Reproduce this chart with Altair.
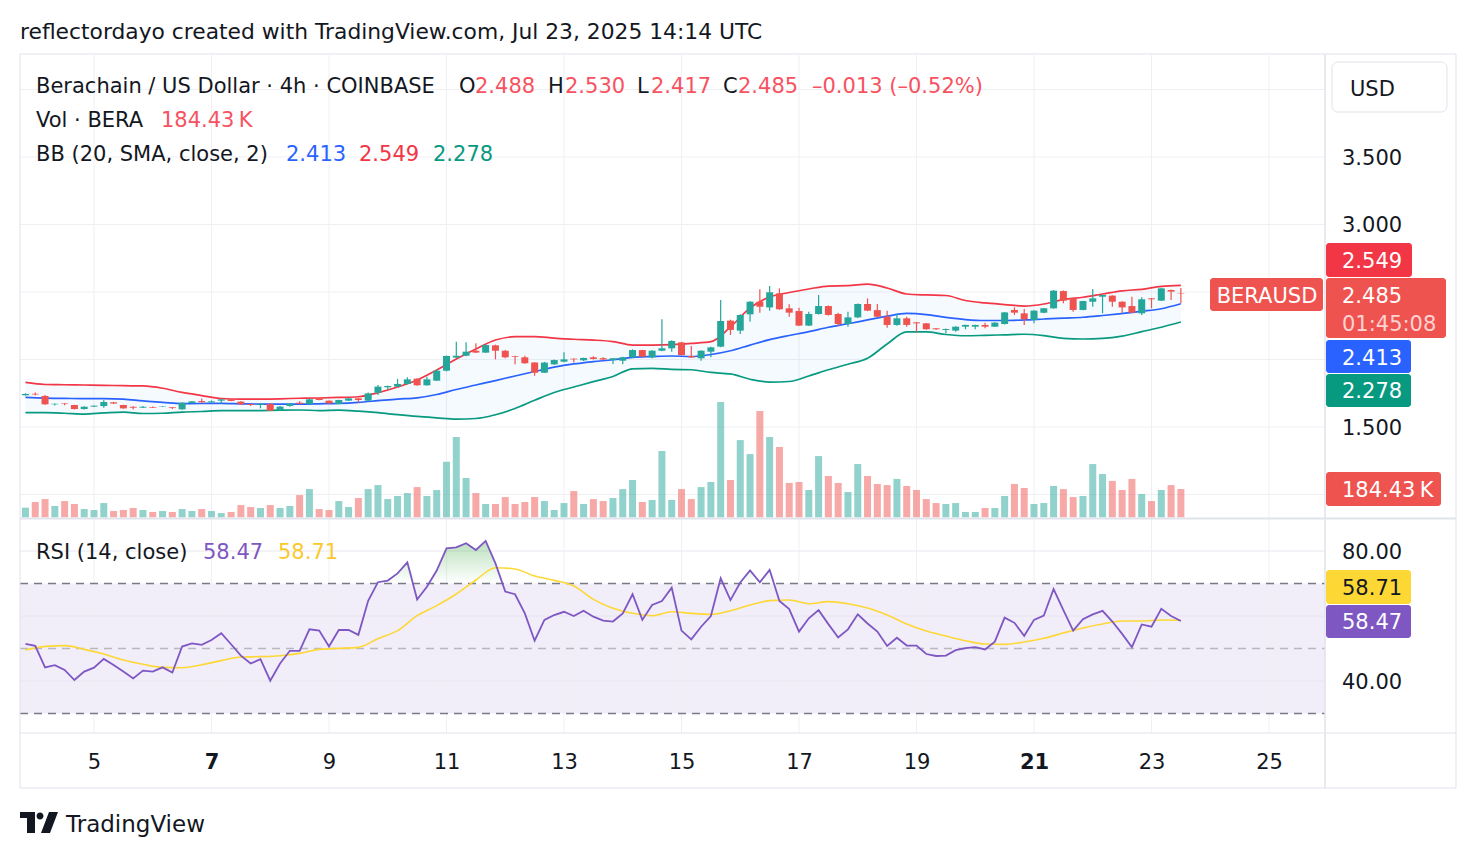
import altair as alt
import pandas as pd

# ---------------- data ----------------
opens = [1.735, 1.746, 1.730, 1.668, 1.674, 1.663, 1.633, 1.651, 1.655, 1.683,
         1.663, 1.650, 1.643, 1.648, 1.650, 1.646, 1.631, 1.678, 1.692, 1.683,
         1.695, 1.705, 1.688, 1.670, 1.665, 1.670, 1.626, 1.656, 1.680, 1.670,
         1.712, 1.695, 1.670, 1.695, 1.712, 1.695, 1.754, 1.794, 1.799, 1.819,
         1.858, 1.809, 1.843, 1.917, 2.014, 2.028, 2.065, 2.051, 2.105, 2.065,
         2.026, 2.016, 1.977, 1.902, 1.964, 1.984, 2.006, 1.994, 2.016, 2.010,
         1.996, 1.991, 2.016, 2.070, 2.016, 2.065, 2.083, 2.127, 2.026, 2.009,
         2.058, 2.095, 2.288, 2.214, 2.335, 2.428, 2.386, 2.490, 2.379, 2.359,
         2.251, 2.337, 2.396, 2.337, 2.263, 2.312, 2.411, 2.366, 2.317, 2.256,
         2.305, 2.275, 2.268, 2.231, 2.219, 2.214, 2.243, 2.243, 2.256, 2.243,
         2.263, 2.367, 2.342, 2.293, 2.347, 2.379, 2.507, 2.453, 2.367, 2.428,
         2.465, 2.473, 2.428, 2.396, 2.342, 2.453, 2.436, 2.515, 2.488]
highs = [1.750, 1.755, 1.737, 1.674, 1.678, 1.665, 1.653, 1.660, 1.700, 1.686,
         1.665, 1.654, 1.656, 1.652, 1.655, 1.648, 1.683, 1.693, 1.712, 1.697,
         1.708, 1.708, 1.690, 1.673, 1.676, 1.678, 1.655, 1.676, 1.690, 1.710,
         1.715, 1.697, 1.702, 1.717, 1.715, 1.755, 1.811, 1.806, 1.856, 1.868,
         1.862, 1.873, 1.927, 2.030, 2.132, 2.127, 2.120, 2.112, 2.110, 2.070,
         2.028, 2.028, 1.980, 1.982, 2.000, 2.053, 2.008, 2.014, 2.024, 2.016,
         2.012, 2.020, 2.075, 2.073, 2.070, 2.298, 2.142, 2.132, 2.100, 2.068,
         2.095, 2.441, 2.295, 2.335, 2.433, 2.520, 2.544, 2.527, 2.409, 2.384,
         2.354, 2.478, 2.400, 2.347, 2.354, 2.415, 2.453, 2.411, 2.362, 2.335,
         2.317, 2.278, 2.270, 2.234, 2.229, 2.246, 2.258, 2.258, 2.273, 2.276,
         2.352, 2.386, 2.374, 2.365, 2.382, 2.515, 2.512, 2.456, 2.436, 2.522,
         2.481, 2.476, 2.431, 2.465, 2.461, 2.456, 2.532, 2.518, 2.530]
lows = [1.732, 1.733, 1.665, 1.660, 1.662, 1.630, 1.630, 1.648, 1.643, 1.670,
        1.636, 1.630, 1.640, 1.640, 1.648, 1.633, 1.628, 1.676, 1.680, 1.680,
        1.670, 1.690, 1.665, 1.655, 1.638, 1.618, 1.620, 1.650, 1.668, 1.668,
        1.698, 1.672, 1.668, 1.693, 1.680, 1.692, 1.737, 1.774, 1.795, 1.815,
        1.805, 1.805, 1.840, 1.912, 2.010, 2.024, 2.048, 2.048, 2.001, 2.010,
        1.964, 1.968, 1.880, 1.900, 1.960, 1.980, 1.977, 1.989, 2.000, 1.995,
        1.967, 1.964, 2.013, 2.018, 2.009, 2.062, 2.058, 2.030, 2.013, 1.991,
        2.016, 2.090, 2.182, 2.189, 2.280, 2.347, 2.362, 2.368, 2.317, 2.248,
        2.248, 2.333, 2.326, 2.248, 2.243, 2.308, 2.358, 2.313, 2.236, 2.250,
        2.243, 2.201, 2.220, 2.220, 2.194, 2.206, 2.224, 2.224, 2.231, 2.240,
        2.260, 2.330, 2.256, 2.268, 2.342, 2.376, 2.416, 2.354, 2.364, 2.391,
        2.342, 2.391, 2.347, 2.344, 2.330, 2.379, 2.433, 2.441, 2.417]
closes = [1.745, 1.741, 1.668, 1.672, 1.670, 1.633, 1.650, 1.658, 1.685, 1.674,
          1.638, 1.643, 1.650, 1.643, 1.653, 1.640, 1.680, 1.690, 1.683, 1.690,
          1.705, 1.693, 1.668, 1.663, 1.673, 1.621, 1.651, 1.673, 1.671, 1.705,
          1.700, 1.675, 1.700, 1.712, 1.700, 1.749, 1.799, 1.804, 1.819, 1.853,
          1.809, 1.853, 1.917, 2.026, 2.028, 2.058, 2.051, 2.107, 2.065, 2.016,
          2.021, 1.972, 1.902, 1.977, 1.996, 2.001, 2.001, 2.011, 2.004, 2.000,
          2.009, 2.016, 2.070, 2.021, 2.065, 2.083, 2.137, 2.033, 2.016, 2.065,
          2.090, 2.285, 2.219, 2.330, 2.428, 2.391, 2.498, 2.372, 2.347, 2.251,
          2.337, 2.396, 2.330, 2.263, 2.312, 2.411, 2.362, 2.317, 2.256, 2.305,
          2.256, 2.268, 2.224, 2.224, 2.226, 2.243, 2.256, 2.256, 2.243, 2.273,
          2.349, 2.347, 2.298, 2.362, 2.379, 2.510, 2.436, 2.367, 2.433, 2.453,
          2.478, 2.428, 2.386, 2.347, 2.446, 2.446, 2.527, 2.503, 2.485]
volumes_k = [63, 100, 119, 74, 106, 87, 54, 48, 93, 41,
             48, 61, 48, 35, 41, 35, 54, 41, 54, 41,
             28, 35, 80, 67, 61, 80, 61, 74, 145, 184,
             54, 48, 106, 67, 126, 184, 210, 119, 139, 158,
             197, 139, 178, 362, 523, 256, 158, 87, 87, 132,
             87, 100, 132, 106, 48, 93, 171, 87, 119, 106,
             126, 184, 243, 100, 113, 432, 113, 184, 119, 197,
             230, 751, 243, 503, 412, 692, 523, 458, 224, 230,
             178, 399, 269, 224, 165, 347, 269, 217, 210, 250,
             204, 178, 119, 93, 87, 93, 35, 35, 61, 61,
             139, 217, 191, 87, 93, 204, 184, 132, 139, 347,
             282, 237, 178, 250, 152, 106, 178, 210, 184.43]
rsi = [51.4, 50.8, 44.2, 44.9, 43.4, 40.3, 42.9, 44.1, 46.8, 44.9,
       42.9, 40.8, 43.2, 42.9, 44.2, 42.6, 50.6, 51.6, 51.1, 52.6,
       54.7, 51.3, 47.8, 45.4, 46.7, 40.1, 45.4, 49.3, 49.3, 55.9,
       55.5, 50.6, 55.7, 55.7, 54.2, 64.7, 70.4, 70.9, 73.1, 76.5,
       65.1, 69.0, 74.0, 80.8, 81.1, 82.4, 80.3, 83.1, 76.2, 67.5,
       66.7, 60.8, 52.4, 58.8, 60.3, 61.3, 60.0, 61.6, 59.8, 58.6,
       58.3, 60.8, 66.7, 58.8, 63.4, 64.6, 68.7, 55.5, 52.8, 56.7,
       60.0, 71.6, 64.9, 70.3, 74.0, 70.4, 74.2, 64.6, 62.1, 55.2,
       59.3, 61.8, 57.5, 53.4, 55.9, 60.5, 57.7, 55.2, 50.8, 53.3,
       50.9, 50.9, 48.3, 47.7, 47.8, 49.5, 50.1, 50.4, 49.7, 52.1,
       59.5, 57.9, 53.9, 58.8, 60.1, 68.3, 61.8, 55.5, 59.0, 60.5,
       61.6, 58.3, 54.5, 50.4, 57.4, 56.7, 62.2, 60.0, 58.47]

# indicator lines read at every 2nd candle (candle index 0, 2, ..., 118)
bb_upper = [1.830, 1.815, 1.813, 1.811, 1.809, 1.806, 1.804, 1.787, 1.756, 1.733,
            1.711, 1.707, 1.707, 1.709, 1.713, 1.715, 1.719, 1.724, 1.754, 1.796,
            1.848, 1.922, 2.004, 2.078, 2.144, 2.169, 2.170, 2.159, 2.150, 2.144,
            2.133, 2.107, 2.107, 2.110, 2.119, 2.132, 2.241, 2.382, 2.463, 2.496,
            2.522, 2.544, 2.547, 2.559, 2.530, 2.485, 2.478, 2.474, 2.437, 2.419,
            2.407, 2.396, 2.411, 2.444, 2.461, 2.485, 2.509, 2.520, 2.542, 2.549]
bb_mid = [1.719, 1.714, 1.712, 1.710, 1.710, 1.707, 1.693, 1.683, 1.673, 1.674,
          1.675, 1.672, 1.670, 1.670, 1.670, 1.672, 1.675, 1.683, 1.695, 1.707,
          1.716, 1.741, 1.778, 1.811, 1.844, 1.878, 1.911, 1.943, 1.967, 1.984,
          1.998, 2.016, 2.022, 2.026, 2.022, 2.037, 2.065, 2.107, 2.147, 2.178,
          2.206, 2.239, 2.265, 2.293, 2.321, 2.341, 2.333, 2.312, 2.296, 2.289,
          2.289, 2.293, 2.300, 2.307, 2.313, 2.326, 2.341, 2.357, 2.376, 2.413]
bb_lower = [1.606, 1.606, 1.602, 1.596, 1.604, 1.610, 1.600, 1.602, 1.610, 1.615,
            1.621, 1.621, 1.622, 1.625, 1.626, 1.622, 1.625, 1.617, 1.606, 1.591,
            1.578, 1.568, 1.559, 1.563, 1.591, 1.637, 1.698, 1.756, 1.796, 1.836,
            1.874, 1.931, 1.935, 1.927, 1.924, 1.904, 1.893, 1.854, 1.833, 1.837,
            1.878, 1.924, 1.965, 2.009, 2.115, 2.204, 2.204, 2.185, 2.176, 2.179,
            2.183, 2.187, 2.177, 2.156, 2.152, 2.156, 2.173, 2.206, 2.239, 2.278]
rsi_ma = [49.54, 50.66, 50.87, 49.74, 48.31, 46.46, 45.13, 44.20, 44.10, 45.02,
          46.26, 47.38, 47.49, 47.79, 48.51, 49.74, 50.05, 50.36, 53.02, 55.49,
          60.10, 63.18, 66.77, 71.08, 74.87, 74.46, 72.31, 70.97, 69.23, 65.13,
          62.36, 60.82, 60.10, 61.33, 60.82, 60.51, 61.64, 63.38, 64.72, 64.92,
          63.79, 64.41, 63.79, 62.46, 60.31, 57.54, 55.38, 53.85, 52.41, 51.38,
          51.28, 52.00, 53.13, 54.77, 56.31, 57.54, 58.46, 58.46, 58.77, 58.71]

price_grid = [1.0, 1.5, 2.0, 2.5, 3.0, 3.5, 4.0]
price_labels = [1.5, 3.0, 3.5]
rsi_grid = [40, 60, 80]
rsi_labels = [40, 80]
day_ticks = [5, 7, 9, 11, 13, 15, 17, 19, 21, 23, 25]

FIRST_DAY = 3 + 20 / 24   # first visible 4h candle: Jul 3, 20:00 UTC
STEP = 4 / 24

cdf = pd.DataFrame({
    "day": [FIRST_DAY + i * STEP for i in range(len(closes))],
    "o": opens, "h": highs, "l": lows, "c": closes,
    "vol": volumes_k, "rsi": rsi,
})
cdf["dir"] = ["up" if c >= o else "down" for o, c in zip(opens, closes)]
band_idx = list(range(0, len(closes), 2))
bdf = pd.DataFrame({
    "day": [FIRST_DAY + i * STEP for i in band_idx],
    "up": bb_upper, "mid": bb_mid, "lo": bb_lower, "ma": rsi_ma,
})

# ---------------- styling ----------------
DARK = "#131722"
GRID = "#EFF0F3"
SEP = "#E0E3EB"
UP, DOWN = "#26A69A", "#EF5350"
FONT = "DejaVu Sans"
FS = 21
DY = 1.5                 # optical centring of DejaVu digits

X0, Y0 = 20, 55          # plot origin in the page
W, H = 1305, 678         # plot area (both panes)

XS = alt.Scale(domain=[3.7404, 25.953], nice=False, zero=False, padding=0)
PS = alt.Scale(domain=[-0.7667, 4.2556], nice=False, zero=False, padding=0)   # price pane
VS = alt.Scale(domain=[-1404, 3010], nice=False, zero=False, padding=0)       # volume (K)
RS = alt.Scale(domain=[24.0, 232.62], nice=False, zero=False, padding=0)      # RSI pane

XAX = alt.Axis(values=day_ticks, format="d", grid=False, ticks=False, domain=False,
               labelFontSize=FS, labelColor=DARK, labelFont=FONT,
               labelBaseline="middle", labelPadding=29.5, title=None,
               labelFontWeight=alt.condition("datum.value == 7 || datum.value == 21",
                                             alt.value("bold"), alt.value("normal")))


def X(field="day"):
    return alt.X(f"{field}:Q", scale=XS, axis=XAX)


ONE = alt.Data(values=[{"k": 0}])


def text(s, x, y, color=DARK, size=FS, align="left", weight="normal"):
    return alt.Chart(ONE).mark_text(
        text=s, align=align, baseline="middle", font=FONT, fontSize=size,
        fontWeight=weight, color=color
    ).encode(x=alt.value(x - X0), y=alt.value(y - Y0 + DY))


def box(x1, y1, x2, y2, fill, stroke=None, radius=3):
    props = dict(fill=fill, cornerRadius=radius)
    if stroke is not None:
        props.update(stroke=stroke, strokeWidth=1)
    return alt.Chart(ONE).mark_rect(**props).encode(
        x=alt.value(x1 - X0), x2=alt.value(x2 - X0),
        y=alt.value(y1 - Y0), y2=alt.value(y2 - Y0))


def hline(y, x1, x2, color=SEP, width=1):
    return alt.Chart(ONE).mark_rule(color=color, strokeWidth=width).encode(
        x=alt.value(x1 - X0), x2=alt.value(x2 - X0), y=alt.value(y - Y0))


def vline(x, y1, y2, color=SEP, width=1):
    return alt.Chart(ONE).mark_rule(color=color, strokeWidth=width).encode(
        x=alt.value(x - X0), y=alt.value(y1 - Y0), y2=alt.value(y2 - Y0))


dir_color = alt.Color("dir:N", scale=alt.Scale(domain=["up", "down"], range=[UP, DOWN]),
                      legend=None)

layers = []

# RSI background band 30..70
layers.append(alt.Chart(pd.DataFrame({"top": [70], "bot": [30]})).mark_rect(color="#F1EDF9").encode(
    x=alt.value(0), x2=alt.value(W), y=alt.Y("top:Q", scale=RS, axis=None), y2="bot:Q"))

# grid
layers.append(alt.Chart(pd.DataFrame({"day": day_ticks})).mark_rule(color=GRID, strokeWidth=1).encode(
    x=X(), y=alt.value(0), y2=alt.value(H)))
layers.append(alt.Chart(pd.DataFrame({"p": price_grid})).mark_rule(color=GRID, strokeWidth=1).encode(
    y=alt.Y("p:Q", scale=PS, axis=None), x=alt.value(0), x2=alt.value(W)))
layers.append(alt.Chart(pd.DataFrame({"r": rsi_grid})).mark_rule(color="#E9E6EF", strokeWidth=1).encode(
    y=alt.Y("r:Q", scale=RS, axis=None), x=alt.value(0), x2=alt.value(W)))

# Bollinger fill
layers.append(alt.Chart(bdf).mark_area(color="#2196F3", opacity=0.05).encode(
    x=X(), y=alt.Y("up:Q", scale=PS, axis=None), y2="lo:Q"))

# volume
layers.append(alt.Chart(cdf).mark_bar(size=7, opacity=0.5).encode(
    x=X(), y=alt.Y("vol:Q", scale=VS, axis=None), y2=alt.datum(0), color=dir_color))

# Bollinger lines
for field, col in [("up", "#F23645"), ("mid", "#2962FF"), ("lo", "#089981")]:
    layers.append(alt.Chart(bdf).mark_line(color=col, strokeWidth=1.7, interpolate="monotone").encode(
        x=X(), y=alt.Y(f"{field}:Q", scale=PS, axis=None)))

# candles
layers.append(alt.Chart(cdf).mark_rule(strokeWidth=1.2).encode(
    x=X(), y=alt.Y("l:Q", scale=PS, axis=None), y2="h:Q", color=dir_color))
layers.append(alt.Chart(cdf).mark_bar(size=7).encode(
    x=X(), y=alt.Y("o:Q", scale=PS, axis=None), y2="c:Q", color=dir_color))

# RSI levels
layers.append(alt.Chart(pd.DataFrame({"r": [70, 30]})).mark_rule(
    color="#787B86", strokeWidth=1.3, strokeDash=[8, 6]).encode(
    y=alt.Y("r:Q", scale=RS, axis=None), x=alt.value(0), x2=alt.value(W)))
layers.append(alt.Chart(pd.DataFrame({"r": [50]})).mark_rule(
    color="#B8B9C0", strokeWidth=1.3, strokeDash=[8, 6]).encode(
    y=alt.Y("r:Q", scale=RS, axis=None), x=alt.value(0), x2=alt.value(W)))

# RSI overbought fill
ob_grad = alt.Gradient(gradient="linear", x1=1, x2=1, y1=0, y2=1, stops=[
    alt.GradientStop(color="rgba(76,175,80,0.38)", offset=0),
    alt.GradientStop(color="rgba(76,175,80,0.0)", offset=1)])
layers.append(alt.Chart(cdf).transform_calculate(ob="max(datum.rsi, 70)").mark_area(color=ob_grad).encode(
    x=X(), y=alt.Y("ob:Q", scale=RS, axis=None), y2=alt.datum(70)))

# RSI MA and RSI
layers.append(alt.Chart(bdf).mark_line(color="#FDD835", strokeWidth=1.6, interpolate="monotone").encode(
    x=X(), y=alt.Y("ma:Q", scale=RS, axis=None)))
layers.append(alt.Chart(cdf).mark_line(color="#7E57C2", strokeWidth=1.8).encode(
    x=X(), y=alt.Y("rsi:Q", scale=RS, axis=None)))

# separators / frame
layers.append(box(20, 54, 1456, 788, "transparent", stroke=SEP, radius=0))
layers.append(hline(518.5, 20, 1456, width=2))
layers.append(hline(733, 20, 1456, width=1))
layers.append(vline(1325, 54, 788, width=1.5))

# price-scale labels (through the scales)
layers.append(alt.Chart(pd.DataFrame({"p": price_labels})).mark_text(
    align="left", baseline="middle", font=FONT, fontSize=FS, color=DARK, dy=DY).encode(
    x=alt.value(1342 - X0), y=alt.Y("p:Q", scale=PS, axis=None), text=alt.Text("p:Q", format=".3f")))
layers.append(alt.Chart(pd.DataFrame({"r": rsi_labels})).mark_text(
    align="left", baseline="middle", font=FONT, fontSize=FS, color=DARK, dy=DY).encode(
    x=alt.value(1342 - X0), y=alt.Y("r:Q", scale=RS, axis=None), text=alt.Text("r:Q", format=".2f")))

# tags on the price scale
layers += [
    box(1332, 62, 1447, 112, "white", stroke=SEP, radius=6),
    text("USD", 1350, 88),
    box(1326, 243, 1412, 277, "#F23645"), text("2.549", 1342, 260, color="white"),
    box(1326, 278, 1446, 338, "#EF5350"), text("2.485", 1342, 295, color="white"),
    text("01:45:08", 1342, 323, color="#FFD3D2"),
    box(1210, 278, 1323, 311, "#EF5350"), text("BERAUSD", 1267, 295, color="white", align="center"),
    box(1326, 340, 1411, 373, "#2962FF"), text("2.413", 1342, 357, color="white"),
    box(1326, 374, 1411, 407, "#089981"), text("2.278", 1342, 390, color="white"),
    box(1326, 472, 1441, 506, "#EF5350"), text("184.43\u202fK", 1342, 489, color="white"),
    box(1326, 570, 1411, 604, "#FDD835"), text("58.71", 1342, 587, color=DARK),
    box(1326, 605, 1411, 638, "#7E57C2"), text("58.47", 1342, 621, color="white"),
]

# legends
RED = "#F7525F"
layers += [
    text("Berachain / US Dollar \u00b7 4h \u00b7 COINBASE", 36, 85),
    text("O", 459, 85), text("2.488", 475, 85, color=RED),
    text("H", 548, 85), text("2.530", 565, 85, color=RED),
    text("L", 637, 85), text("2.417", 651, 85, color=RED),
    text("C", 723, 85), text("2.485", 738, 85, color=RED),
    text("\u20130.013 (\u20130.52%)", 812, 85, color=RED),
    text("Vol \u00b7 BERA", 36, 119), text("184.43\u202fK", 161, 119, color=RED),
    text("BB (20, SMA, close, 2)", 36, 153),
    text("2.413", 286, 153, color="#2962FF"),
    text("2.549", 359, 153, color="#F23645"),
    text("2.278", 433, 153, color="#089981"),
    text("RSI (14, close)", 36, 551),
    text("58.47", 203, 551, color="#7E57C2"),
    text("58.71", 278, 551, color="#F9C92E"),
]

# page title and footer
layers.append(text("reflectordayo created with TradingView.com, Jul 23, 2025 14:14 UTC", 20, 30, size=21.8))
logo_path = ("M -1 -0.553 L -0.211 -0.553 L -0.211 0.553 L -0.632 0.553 L -0.632 -0.237 L -1 -0.237 Z "
             "M -0.131 -0.342 A 0.184 0.184 0 1 0 0.237 -0.342 A 0.184 0.184 0 1 0 -0.131 -0.342 Z "
             "M 0.526 -0.553 L 1 -0.553 L 0.579 0.553 L 0.105 0.553 Z")
layers.append(alt.Chart(ONE).mark_point(shape=logo_path, size=1444, filled=True, color=DARK,
                                        opacity=1, strokeWidth=0).encode(
    x=alt.value(39 - X0), y=alt.value(822.5 - Y0)))
layers.append(text("TradingView", 66, 823, size=23))

chart = alt.layer(*layers).resolve_scale(y="independent").properties(
    width=W, height=H,
    autosize=alt.AutoSizeParams(type="none"),
    padding={"left": X0, "top": Y0, "right": 1476 - X0 - W, "bottom": 858 - Y0 - H},
    background="white",
).configure_view(strokeWidth=0)

chart.save("out.html", embed_options={"renderer": "svg", "actions": False})
